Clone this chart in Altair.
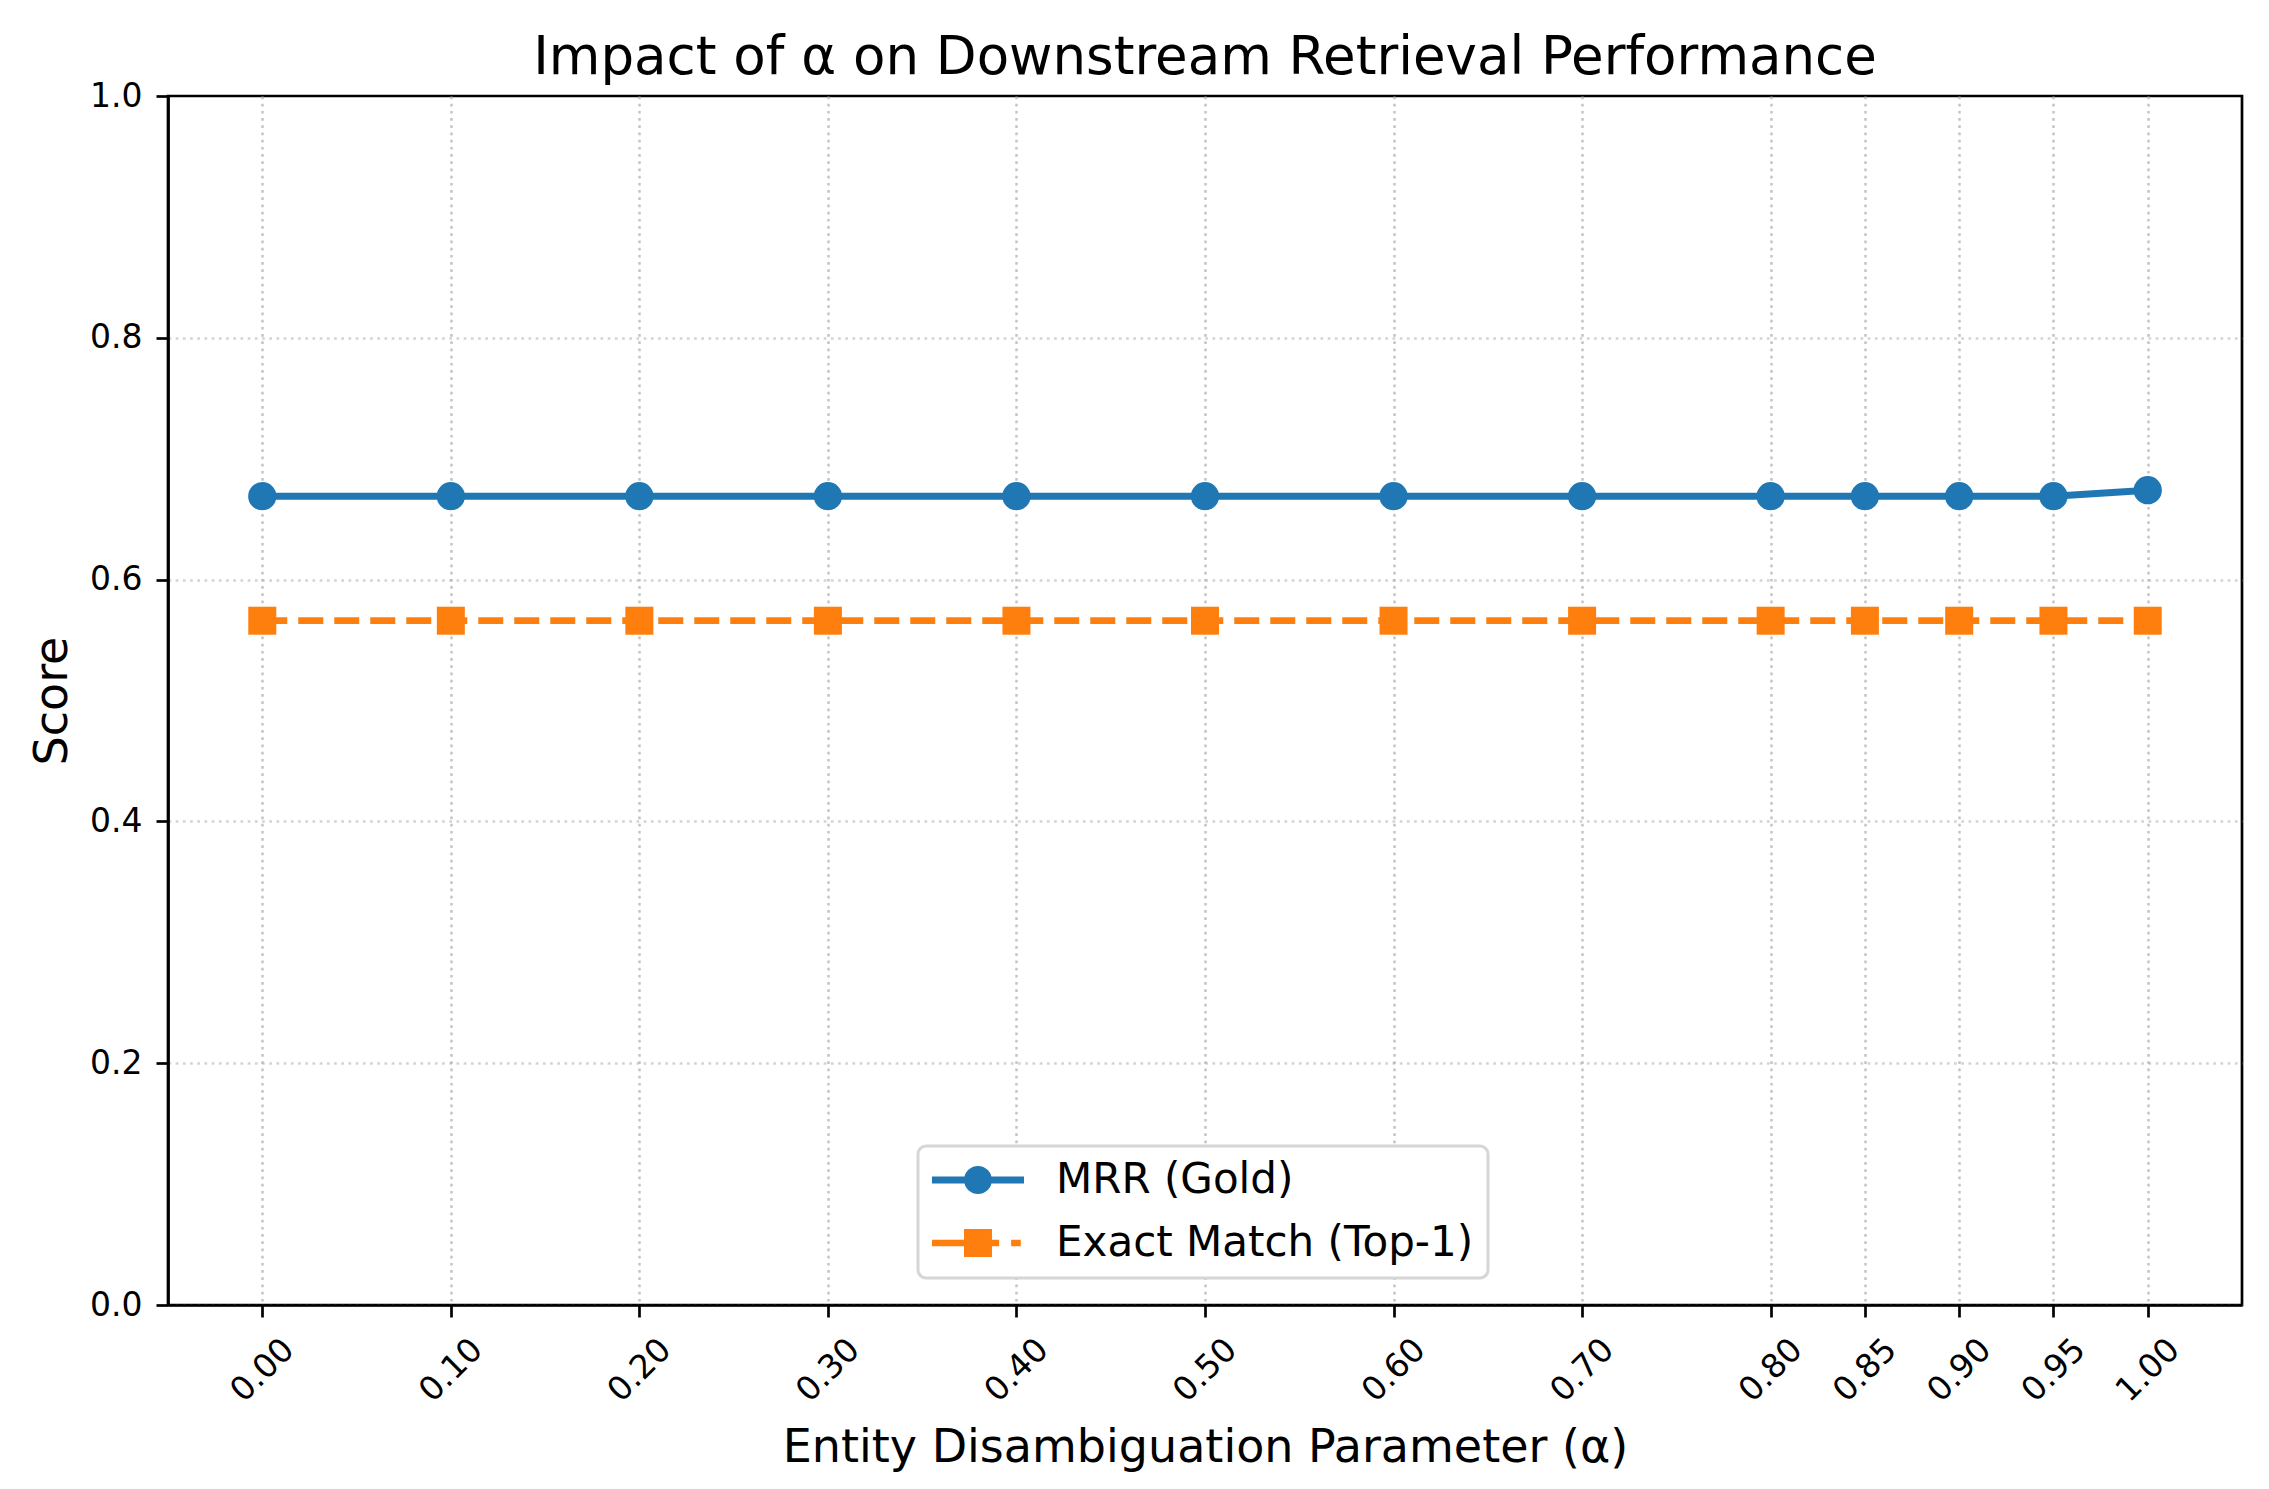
import altair as alt
import pandas as pd

# ---- data ----
alpha = [0.00, 0.10, 0.20, 0.30, 0.40, 0.50, 0.60, 0.70, 0.80, 0.85, 0.90, 0.95, 1.00]
mrr = [0.669, 0.669, 0.669, 0.669, 0.669, 0.669, 0.669, 0.669, 0.669, 0.669, 0.669, 0.669, 0.674]
exact = [0.566, 0.566, 0.566, 0.566, 0.566, 0.566, 0.566, 0.566, 0.566, 0.566, 0.566, 0.566, 0.566]
series = ["MRR (Gold)", "Exact Match (Top-1)"]
colors = ["#1f77b4", "#ff7f0e"]
y_ticks = [0.0, 0.2, 0.4, 0.6, 0.8, 1.0]

df = pd.DataFrame(
    {
        "alpha": alpha + alpha,
        "score": mrr + exact,
        "metric": [series[0]] * len(alpha) + [series[1]] * len(alpha),
    }
)

FONT = "DejaVu Sans"

# legend glyphs: line + marker, drawn in the -1..1 unit box of a legend symbol
PATH_MRR = (
    "M-1,-0.076L1,-0.076L1,0.076L-1,0.076Z"
    "M-0.304,0A0.304,0.304,0,1,1,0.304,0A0.304,0.304,0,1,1,-0.304,0Z"
)
PATH_EM = (
    "M-1,-0.073L-0.304,-0.073L-0.304,0.073L-1,0.073Z"
    "M-0.304,-0.304L0.304,-0.304L0.304,0.304L-0.304,0.304Z"
    "M0.304,-0.073L0.46,-0.073L0.46,0.073L0.304,0.073Z"
    "M0.72,-0.073L0.93,-0.073L0.93,0.073L0.72,0.073Z"
)

legend = alt.Legend(
    orient="none",
    legendX=750,
    legendY=1050,
    padding=14,
    fillColor="white",
    strokeColor="#d6d6d6",
    cornerRadius=8,
    labelFont=FONT,
    labelFontSize=42,
    labelColor="black",
    labelOffset=32,
    labelLimit=0,
    symbolSize=8464,
    symbolStrokeWidth=0,
    symbolOpacity=1,
    clipHeight=40,
    rowPadding=21,
)

x_enc = alt.X(
    "alpha:Q",
    scale=alt.Scale(domain=[-0.05, 1.05], nice=False, zero=False),
    axis=alt.Axis(
        values=alpha,
        format=".2f",
        title="Entity Disambiguation Parameter (α)",
        labelAngle=-45,
        labelAlign="center",
        labelBaseline="middle",
        labelPadding=53,
        labelOverlap=False,
        labelFlush=False,
        titleY=156,
        titleBaseline="alphabetic",
    ),
)
y_enc = alt.Y(
    "score:Q",
    scale=alt.Scale(domain=[0, 1], nice=False, zero=False),
    axis=alt.Axis(
        values=y_ticks,
        format=".1f",
        title="Score",
        titleX=-102,
        titleBaseline="alphabetic",
        labelPadding=14,
        labelFlush=False,
        labelOverlap=False,
        gridOpacity={"condition": {"test": "datum.value >= 1", "value": 0}, "value": 0.75},
    ),
)

color_enc = alt.Color(
    "metric:N",
    scale=alt.Scale(domain=series, range=colors),
    legend=legend,
    title="",
)
shape_enc = alt.Shape(
    "metric:N",
    scale=alt.Scale(domain=series, range=[PATH_MRR, PATH_EM]),
    legend=legend,
    title="",
)

base = alt.Chart(df)

line_mrr = (
    base.transform_filter(alt.datum.metric == series[0])
    .mark_line(color=colors[0], strokeWidth=7)
    .encode(x=x_enc, y=y_enc)
)
line_em = (
    base.transform_filter(alt.datum.metric == series[1])
    .mark_line(color=colors[1], strokeWidth=6.7, strokeDash=[25, 11])
    .encode(x=x_enc, y=y_enc)
)
pts_mrr = (
    base.transform_filter(alt.datum.metric == series[0])
    .mark_point(shape="circle", filled=True, size=800, opacity=1, strokeWidth=0)
    .encode(x=x_enc, y=y_enc, color=color_enc)
)
pts_em = (
    base.transform_filter(alt.datum.metric == series[1])
    .mark_point(shape="square", filled=True, size=784, opacity=1, strokeWidth=0)
    .encode(x=x_enc, y=y_enc, color=color_enc)
)
# carries the legend glyphs only (draws no data)
legend_layer = (
    base.transform_filter("false")
    .mark_point(filled=True, opacity=1, strokeWidth=0)
    .encode(x=x_enc, y=y_enc, color=color_enc, shape=shape_enc)
)

chart = (
    alt.layer(line_mrr, line_em, pts_mrr, pts_em, legend_layer)
    .properties(
        width=2074,
        height=1209,
        padding={"left": 160, "top": 88, "right": 15, "bottom": 170},
        autosize=alt.AutoSizeParams(type="none"),
        background="white",
        title=alt.TitleParams(
            text="Impact of α on Downstream Retrieval Performance",
            font=FONT,
            fontSize=53,
            fontWeight="normal",
            color="black",
            anchor="middle",
            frame="group",
            baseline="alphabetic",
            offset=21,
            dy=68,
        ),
    )
    .configure_view(stroke="black", strokeWidth=2.7)
    .configure_axis(
        domainColor="black",
        domainWidth=2.7,
        tickColor="black",
        tickWidth=2.7,
        tickSize=12,
        labelFont=FONT,
        labelFontSize=33,
        labelColor="black",
        titleFont=FONT,
        titleFontSize=46,
        titleFontWeight="normal",
        titleColor="black",
        grid=True,
        gridColor="#b0b0b0",
        gridOpacity=0.75,
        gridDash=[2.7, 4.5],
        gridWidth=2.5,
    )
)

# thicker legend frame, if the schema allows it
try:
    alt.LegendConfig(strokeWidth=3).to_dict()
    chart = chart.configure_legend(strokeWidth=3)
except Exception:
    pass

chart.save("out.html", embed_options={"renderer": "svg", "actions": False})
